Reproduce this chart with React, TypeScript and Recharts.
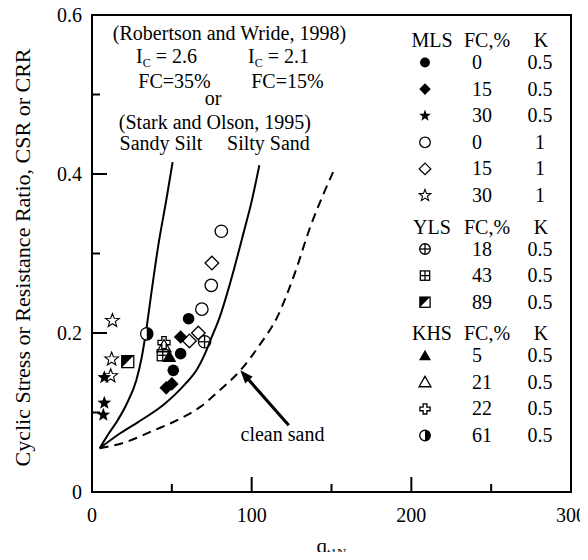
import React from 'react';
import {
  ComposedChart,
  XAxis,
  YAxis,
  Line,
  Scatter,
  ReferenceArea,
  ReferenceDot,
  ReferenceLine,
  Legend,
} from 'recharts';

const FONT = 'Liberation Serif';

// Axes
const X_DOMAIN: [number, number] = [0, 300];
const Y_DOMAIN: [number, number] = [0, 0.6];
const X_TICKS = [0, 50, 100, 150, 200, 250, 300];
const X_LABELED = [0, 100, 200, 300];
const Y_TICKS = [0, 0.1, 0.2, 0.3, 0.4, 0.5, 0.6];
const Y_LABELED = [0, 0.2, 0.4, 0.6];
const X_TITLE_ANCHOR = { x: 150, y: 0 };
const Y_TITLE_ANCHOR = { x: 0, y: 0.3 };

// Boundary curves
const sandySiltCurve = [
  { x: 4.8, y: 0.055 }, { x: 10, y: 0.072 }, { x: 16.3, y: 0.091 }, { x: 22, y: 0.112 },
  { x: 27.8, y: 0.141 }, { x: 31, y: 0.168 }, { x: 33.7, y: 0.2 }, { x: 37.5, y: 0.255 },
  { x: 41.5, y: 0.31 }, { x: 46.5, y: 0.367 }, { x: 50.5, y: 0.415 },
];
const siltySandCurve = [
  { x: 4.8, y: 0.055 }, { x: 16.3, y: 0.072 }, { x: 28.9, y: 0.088 }, { x: 45, y: 0.11 },
  { x: 58, y: 0.135 }, { x: 66, y: 0.155 }, { x: 71, y: 0.175 }, { x: 75, y: 0.195 },
  { x: 80, y: 0.22 }, { x: 86.4, y: 0.262 }, { x: 94.8, y: 0.325 }, { x: 100.5, y: 0.37 },
  { x: 104.8, y: 0.411 },
];
const cleanSandCurve = [
  { x: 4.8, y: 0.055 }, { x: 18.4, y: 0.061 }, { x: 39.3, y: 0.078 }, { x: 55, y: 0.092 },
  { x: 67.8, y: 0.107 }, { x: 80, y: 0.128 }, { x: 92.9, y: 0.153 }, { x: 105, y: 0.185 },
  { x: 116, y: 0.22 }, { x: 127, y: 0.275 }, { x: 136.8, y: 0.334 }, { x: 145, y: 0.375 },
  { x: 152.5, y: 0.409 },
];

// Test data
const mlsFc0K05 = [{ x: 60.5, y: 0.218 }, { x: 55.5, y: 0.174 }, { x: 50.9, y: 0.153 }];
const mlsFc15K05 = [{ x: 55.5, y: 0.195 }, { x: 46.5, y: 0.131 }, { x: 50.0, y: 0.136 }];
const mlsFc30K05 = [{ x: 7.7, y: 0.144 }, { x: 7.7, y: 0.112 }, { x: 7.1, y: 0.097 }];
const mlsFc0K1 = [{ x: 81, y: 0.328 }, { x: 74.7, y: 0.26 }, { x: 68.8, y: 0.23 }];
const mlsFc15K1 = [{ x: 75.1, y: 0.288 }, { x: 66.6, y: 0.2 }, { x: 61, y: 0.19 }];
const mlsFc30K1 = [{ x: 12.8, y: 0.2155 }, { x: 12.3, y: 0.167 }, { x: 11.7, y: 0.146 }];
const ylsFc18 = [{ x: 70.5, y: 0.189 }];
const ylsFc43 = [{ x: 44.3, y: 0.172 }];
const ylsFc89 = [{ x: 22.4, y: 0.164 }];
const khsFc5 = [{ x: 48.4, y: 0.17 }];
const khsFc21 = [{ x: 45.1, y: 0.183 }];
const khsFc22 = [{ x: 45.1, y: 0.188 }];
const khsFc61 = [{ x: 34.3, y: 0.199 }];

// Arrow for "clean sand"
const arrowTail = { x: 123.2, y: 0.084 };
const arrowTip = { x: 92.9, y: 0.153 };

// Annotations (anchor in data coords: center x, baseline y)
const notes = [
  { x: 86.1, y: 0.5686, text: '(Robertson and Wride, 1998)' },
  { x: 46.7, y: 0.5396, sub: ['I', 'C', ' = 2.6'] },
  { x: 116.8, y: 0.5396, sub: ['I', 'C', ' = 2.1'] },
  { x: 51.7, y: 0.5082, text: 'FC=35%' },
  { x: 122.4, y: 0.5082, text: 'FC=15%' },
  { x: 75.8, y: 0.4868, text: 'or' },
  { x: 77.0, y: 0.4566, text: '(Stark and Olson, 1995)' },
  { x: 43.2, y: 0.4302, text: 'Sandy Silt' },
  { x: 110.5, y: 0.4302, text: 'Silty Sand' },
  { x: 119.3, y: 0.0642, text: 'clean sand' },
];

// Legend
const legendGroups = [
  {
    site: 'MLS',
    rows: [
      { kind: 'circle', fc: '0', k: '0.5' },
      { kind: 'diamond', fc: '15', k: '0.5' },
      { kind: 'star', fc: '30', k: '0.5' },
      { kind: 'ocircle', fc: '0', k: '1' },
      { kind: 'odiamond', fc: '15', k: '1' },
      { kind: 'ostar', fc: '30', k: '1' },
    ],
  },
  {
    site: 'YLS',
    rows: [
      { kind: 'crosscircle', fc: '18', k: '0.5' },
      { kind: 'sqplus', fc: '43', k: '0.5' },
      { kind: 'halfsq', fc: '89', k: '0.5' },
    ],
  },
  {
    site: 'KHS',
    rows: [
      { kind: 'tri', fc: '5', k: '0.5' },
      { kind: 'otri', fc: '21', k: '0.5' },
      { kind: 'oplus', fc: '22', k: '0.5' },
      { kind: 'halfcircle', fc: '61', k: '0.5' },
    ],
  },
];

const seriesList = [
  { data: mlsFc0K05, kind: 'circle' },
  { data: mlsFc15K05, kind: 'diamond' },
  { data: mlsFc30K05, kind: 'star' },
  { data: mlsFc0K1, kind: 'ocircle' },
  { data: mlsFc15K1, kind: 'odiamond' },
  { data: mlsFc30K1, kind: 'ostar' },
  { data: ylsFc18, kind: 'crosscircle' },
  { data: ylsFc43, kind: 'sqplus' },
  { data: ylsFc89, kind: 'halfsq' },
  { data: khsFc5, kind: 'tri' },
  { data: khsFc21, kind: 'otri' },
  { data: khsFc22, kind: 'oplus' },
  { data: khsFc61, kind: 'halfcircle' },
];

const textStyle = { fontFamily: FONT };

function starPoints(cx: number, cy: number, R: number, r: number) {
  const pts: string[] = [];
  for (let i = 0; i < 10; i++) {
    const a = -Math.PI / 2 + (i * Math.PI) / 5;
    const rad = i % 2 === 0 ? R : r;
    pts.push(`${cx + rad * Math.cos(a)},${cy + rad * Math.sin(a)}`);
  }
  return pts.join(' ');
}

function Marker({ kind, cx, cy, s = 1 }: { kind: string; cx: number; cy: number; s?: number }) {
  const k = '#000';
  const sw = 1.3;
  if (cx == null || cy == null || isNaN(cx) || isNaN(cy)) return null;
  switch (kind) {
    case 'circle':
      return <circle cx={cx} cy={cy} r={5.8 * s} fill={k} />;
    case 'ocircle':
      return <circle cx={cx} cy={cy} r={6.2 * s} fill="none" stroke={k} strokeWidth={sw} />;
    case 'diamond': {
      const d = 6.8 * s;
      return <polygon points={`${cx},${cy - d} ${cx + d},${cy} ${cx},${cy + d} ${cx - d},${cy}`} fill={k} />;
    }
    case 'odiamond': {
      const d = 6.8 * s;
      return (
        <polygon
          points={`${cx},${cy - d} ${cx + d},${cy} ${cx},${cy + d} ${cx - d},${cy}`}
          fill="none"
          stroke={k}
          strokeWidth={sw}
        />
      );
    }
    case 'star':
      return <polygon points={starPoints(cx, cy, 7.2 * s, 3.0 * s)} fill={k} />;
    case 'ostar':
      return <polygon points={starPoints(cx, cy, 7.2 * s, 3.0 * s)} fill="none" stroke={k} strokeWidth={1.1} />;
    case 'crosscircle': {
      const r = 6.2 * s;
      return (
        <g stroke={k} strokeWidth={sw} fill="none">
          <circle cx={cx} cy={cy} r={r} />
          <line x1={cx - r} y1={cy} x2={cx + r} y2={cy} />
          <line x1={cx} y1={cy - r} x2={cx} y2={cy + r} />
        </g>
      );
    }
    case 'sqplus': {
      const h = 5.5 * s;
      return (
        <g stroke={k} strokeWidth={sw} fill="none">
          <rect x={cx - h} y={cy - h} width={2 * h} height={2 * h} />
          <line x1={cx - h} y1={cy} x2={cx + h} y2={cy} />
          <line x1={cx} y1={cy - h} x2={cx} y2={cy + h} />
        </g>
      );
    }
    case 'halfsq': {
      const h = 6 * s;
      return (
        <g>
          <rect x={cx - h} y={cy - h} width={2 * h} height={2 * h} fill="#fff" stroke={k} strokeWidth={sw} />
          <polygon points={`${cx - h},${cy - h} ${cx + h},${cy - h} ${cx - h},${cy + h}`} fill={k} />
        </g>
      );
    }
    case 'tri': {
      const h = 7 * s;
      return <polygon points={`${cx},${cy - h} ${cx + h},${cy + h * 0.75} ${cx - h},${cy + h * 0.75}`} fill={k} />;
    }
    case 'otri': {
      const h = 7 * s;
      return (
        <polygon
          points={`${cx},${cy - h} ${cx + h},${cy + h * 0.75} ${cx - h},${cy + h * 0.75}`}
          fill="none"
          stroke={k}
          strokeWidth={sw}
        />
      );
    }
    case 'oplus': {
      const e = 6 * s;
      const w = 2.2 * s;
      const p = [
        [-w, -e], [w, -e], [w, -w], [e, -w], [e, w], [w, w], [w, e], [-w, e], [-w, w], [-e, w], [-e, -w], [-w, -w],
      ]
        .map(([a, b]) => `${cx + a},${cy + b}`)
        .join(' ');
      return <polygon points={p} fill="none" stroke={k} strokeWidth={sw} />;
    }
    case 'halfcircle': {
      const r = 6.2 * s;
      return (
        <g>
          <circle cx={cx} cy={cy} r={r} fill="#fff" stroke={k} strokeWidth={sw} />
          <path d={`M ${cx} ${cy - r} A ${r} ${r} 0 0 1 ${cx} ${cy + r} Z`} fill={k} />
        </g>
      );
    }
    default:
      return null;
  }
}

const XTick = (props: any) => {
  const { x, y, payload } = props;
  const v = payload.value;
  const major = X_LABELED.includes(v);
  const len = major ? 15 : 8;
  return (
    <g>
      <line x1={x} y1={y} x2={x} y2={y - len} stroke="#000" strokeWidth={2} />
      {major && (
        <text x={x} y={y + 30} textAnchor="middle" fontSize={20} style={textStyle} fill="#000">
          {v}
        </text>
      )}
    </g>
  );
};

const YTick = (props: any) => {
  const { x, y, payload } = props;
  const v = payload.value;
  const major = Y_LABELED.some((t) => Math.abs(t - v) < 1e-9);
  const len = major ? 15 : 8;
  return (
    <g>
      <line x1={x} y1={y} x2={x + len} y2={y} stroke="#000" strokeWidth={2} />
      {major && (
        <text x={x - 10} y={y + 7} textAnchor="end" fontSize={20} style={textStyle} fill="#000">
          {v === 0 ? '0' : v.toFixed(1)}
        </text>
      )}
    </g>
  );
};

const YTitleShape = (p: any) => {
  const cx = p.cx - 70;
  const cy = p.cy + 4;
  return (
    <text
      x={cx}
      y={cy}
      transform={`rotate(-90 ${cx} ${cy})`}
      textAnchor="middle"
      dominantBaseline="central"
      fontSize={22}
      style={textStyle}
      fill="#000"
    >
      Cyclic Stress or Resistance Ratio, CSR or CRR
    </text>
  );
};

const XTitleShape = (p: any) => {
  const cx = p.cx;
  const by = p.cy + 61;
  return (
    <text x={cx} y={by} textAnchor="middle" style={textStyle} fill="#000">
      <tspan fontSize={21}>q</tspan>
      <tspan fontSize={13} dy={4}>
        t1N
      </tspan>
    </text>
  );
};

const NoteShape = (note: any) => (p: any) => {
  const { cx, cy } = p;
  if (note.sub) {
    return (
      <text x={cx} y={cy} textAnchor="middle" fontSize={20} style={textStyle} fill="#000">
        <tspan>{note.sub[0]}</tspan>
        <tspan fontSize={12} dy={4}>
          {note.sub[1]}
        </tspan>
        <tspan dy={-4}>{note.sub[2]}</tspan>
      </text>
    );
  }
  return (
    <text x={cx} y={cy} textAnchor="middle" fontSize={20} style={textStyle} fill="#000">
      {note.text}
    </text>
  );
};

const ArrowShape = (p: any) => {
  const { x1, y1, x2, y2 } = p;
  if ([x1, y1, x2, y2].some((v) => v == null || isNaN(v))) return null;
  const ang = Math.atan2(y2 - y1, x2 - x1);
  const L = 13;
  const W = 5;
  const bx = x2 - L * Math.cos(ang);
  const by = y2 - L * Math.sin(ang);
  const px = -Math.sin(ang);
  const py = Math.cos(ang);
  return (
    <g>
      <line x1={x1} y1={y1} x2={bx + 2 * Math.cos(ang)} y2={by + 2 * Math.sin(ang)} stroke="#000" strokeWidth={3} />
      <polygon
        points={`${x2},${y2} ${bx + W * px},${by + W * py} ${bx - W * px},${by - W * py}`}
        fill="#000"
      />
    </g>
  );
};

const LegendBox = () => {
  // local coordinates: page - (400, 20)
  const items: React.ReactNode[] = [];
  let base = 27; // first header baseline
  legendGroups.forEach((g, gi) => {
    items.push(
      <g key={`h${gi}`} fill="#000">
        <text x={32} y={base} textAnchor="middle" fontSize={20} style={textStyle}>
          {g.site}
        </text>
        <text x={87} y={base} textAnchor="middle" fontSize={20} style={textStyle}>
          FC,%
        </text>
        <text x={141} y={base} textAnchor="middle" fontSize={20} style={textStyle}>
          K
        </text>
      </g>
    );
    g.rows.forEach((r, ri) => {
      const b = base + 22 + ri * 26.6;
      items.push(
        <g key={`r${gi}-${ri}`}>
          <Marker kind={r.kind} cx={25} cy={b - 6.5} s={0.85} />
          <text x={72} y={b} fontSize={20} style={textStyle} fill="#000">
            {r.fc}
          </text>
          <text x={140} y={b} textAnchor="middle" fontSize={20} style={textStyle} fill="#000">
            {r.k}
          </text>
        </g>
      );
    });
    base = base + 22 + (g.rows.length - 1) * 26.6 + 31.5;
  });
  return (
    <svg width={172} height={445} style={{ display: 'block', overflow: 'visible' }}>
      {items}
    </svg>
  );
};

export default function App() {
  return (
    <div style={{ width: 580, height: 560, marginTop: -8, marginBottom: -8, fontFamily: FONT }}>
      <ComposedChart width={580} height={560} margin={{ top: 15, right: 17, left: 0, bottom: 0 }}>
        <XAxis
          dataKey="x"
          type="number"
          domain={X_DOMAIN}
          ticks={X_TICKS}
          interval={0}
          height={68}
          tickSize={0}
          tickMargin={0}
          axisLine={false}
          tickLine={false}
          tick={<XTick />}
          allowDataOverflow
        />
        <YAxis
          dataKey="y"
          type="number"
          domain={Y_DOMAIN}
          ticks={Y_TICKS}
          interval={0}
          width={84}
          tickSize={0}
          tickMargin={0}
          axisLine={false}
          tickLine={false}
          tick={<YTick />}
          allowDataOverflow
        />
        <ReferenceArea
          x1={X_DOMAIN[0]}
          x2={X_DOMAIN[1]}
          y1={Y_DOMAIN[0]}
          y2={Y_DOMAIN[1]}
          fill="none"
          fillOpacity={0}
          stroke="#000"
          strokeWidth={2}
          ifOverflow="visible"
        />
        <Line
          data={sandySiltCurve}
          dataKey="y"
          type="monotone"
          stroke="#000"
          strokeWidth={2}
          dot={false}
          activeDot={false}
          isAnimationActive={false}
          legendType="none"
        />
        <Line
          data={siltySandCurve}
          dataKey="y"
          type="monotone"
          stroke="#000"
          strokeWidth={2}
          dot={false}
          activeDot={false}
          isAnimationActive={false}
          legendType="none"
        />
        <Line
          data={cleanSandCurve}
          dataKey="y"
          type="monotone"
          stroke="#000"
          strokeWidth={2}
          strokeDasharray="9 6"
          dot={false}
          activeDot={false}
          isAnimationActive={false}
          legendType="none"
        />
        <ReferenceLine
          segment={[arrowTail, arrowTip]}
          stroke="#000"
          strokeWidth={3}
          shape={ArrowShape}
          ifOverflow="visible"
        />
        {seriesList.map((s, i) => (
          <Scatter
            key={`s${i}`}
            data={s.data}
            dataKey="y"
            isAnimationActive={false}
            legendType="none"
            shape={(p: any) => <Marker kind={s.kind} cx={p.cx} cy={p.cy} />}
          />
        ))}
        {notes.map((n, i) => (
          <ReferenceDot
            key={`n${i}`}
            x={n.x}
            y={n.y}
            r={0}
            ifOverflow="visible"
            shape={NoteShape(n)}
          />
        ))}
        <ReferenceDot x={X_TITLE_ANCHOR.x} y={X_TITLE_ANCHOR.y} r={0} ifOverflow="visible" shape={XTitleShape} />
        <ReferenceDot x={Y_TITLE_ANCHOR.x} y={Y_TITLE_ANCHOR.y} r={0} ifOverflow="visible" shape={YTitleShape} />
        <Legend
          layout="vertical"
          align="center"
          verticalAlign="middle"
          wrapperStyle={{ position: 'absolute', left: 392, top: 20, width: 172, height: 445 }}
          content={() => <LegendBox />}
        />
      </ComposedChart>
    </div>
  );
}
